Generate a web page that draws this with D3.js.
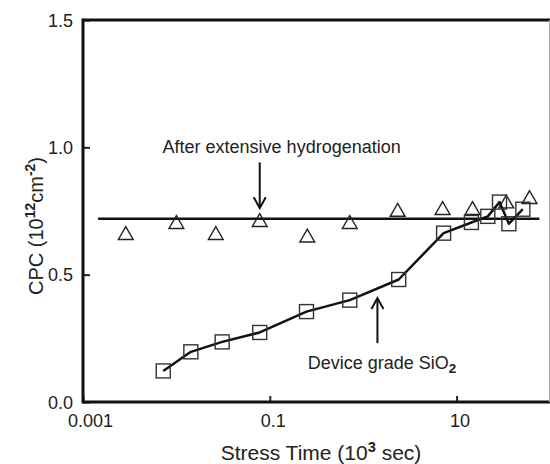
<!DOCTYPE html>
<html>
<head>
<meta charset="utf-8">
<script src="https://cdn.jsdelivr.net/npm/d3@7"></script>
<style>
  html, body { margin: 0; padding: 0; background: #fff; }
  svg { display: block; font-family: "Liberation Sans", Arial, sans-serif; }
</style>
</head>
<body>
<svg id="chart" width="550" height="464"></svg>
<script>
// ---- data ----
const hydroTime = [0.00287, 0.0100, 0.0264, 0.078, 0.252, 0.718, 2.34, 7.08, 14.8, 34, 60.4];
const hydroCPC  = [0.655, 0.698, 0.655, 0.706, 0.645, 0.698, 0.746, 0.753, 0.753, 0.779, 0.796];

const deviceTime = [0.00723, 0.01428, 0.0309, 0.078, 0.247, 0.718, 2.40, 7.26, 14.4, 21.6, 28.8, 36.3, 51.2];
const deviceCPC  = [0.122, 0.197, 0.236, 0.273, 0.355, 0.400, 0.481, 0.663, 0.705, 0.729, 0.785, 0.700, 0.757];

const hydroLevel = 0.72;            // horizontal reference line
const hydroLevelSpan = [0.00145, 77];

const xTicks = [0.001, 0.1, 10];
const xTickLabels = ["0.001", "0.1", "10"];
const yTicks = [0.0, 0.5, 1.0, 1.5];

const xDomain = [0.001, 100];
const yDomain = [0, 1.5];

// ---- layout ----
const svg = d3.select("#chart");
const L = 83, T = 20, R = 550, B = 402;

const x = d3.scaleLog().domain(xDomain).range([L, R]);
const y = d3.scaleLinear().domain(yDomain).range([B, T]);

const tickFont = 18;
const annFont = 18;
const titleFont = 21;
const textColor = "#222";

// axes
const xAxis = d3.axisBottom(x).tickValues(xTicks)
  .tickFormat((d, i) => xTickLabels[i])
  .tickSizeInner(-6).tickSizeOuter(0).tickPadding(12);
const gx = svg.append("g").attr("transform", `translate(0,${B})`).call(xAxis);
gx.select(".domain").remove();
gx.selectAll(".tick line").attr("stroke", "#222").attr("stroke-width", 2);
gx.selectAll(".tick text").attr("font-size", tickFont).attr("fill", textColor)
  .attr("font-family", "Liberation Sans, Arial, sans-serif")
  .attr("dx", (d, i) => i === 0 ? 7 : 3);

const yAxis = d3.axisLeft(y).tickValues(yTicks).tickFormat(d3.format(".1f"))
  .tickSizeInner(-7).tickSizeOuter(0).tickPadding(10);
const gy = svg.append("g").attr("transform", `translate(${L},0)`).call(yAxis);
gy.select(".domain").remove();
gy.selectAll(".tick line").attr("stroke", "#222").attr("stroke-width", 2);
gy.selectAll(".tick text").attr("font-size", tickFont).attr("fill", textColor)
  .attr("font-family", "Liberation Sans, Arial, sans-serif").attr("dy", "0.34em");

// frame
svg.append("line").attr("x1", L).attr("x2", L).attr("y1", T - 1.5).attr("y2", B + 1.5)
  .attr("stroke", "#111").attr("stroke-width", 3);
svg.append("line").attr("x1", L).attr("x2", R).attr("y1", B).attr("y2", B)
  .attr("stroke", "#111").attr("stroke-width", 3);
svg.append("line").attr("x1", L).attr("x2", R).attr("y1", T).attr("y2", T)
  .attr("stroke", "#111").attr("stroke-width", 3);
svg.append("line").attr("x1", 549.5).attr("x2", 549.5).attr("y1", T).attr("y2", B)
  .attr("stroke", "#aaa").attr("stroke-width", 1);

// horizontal hydrogenation line
svg.append("line")
  .attr("x1", x(hydroLevelSpan[0])).attr("x2", x(hydroLevelSpan[1]))
  .attr("y1", y(hydroLevel)).attr("y2", y(hydroLevel))
  .attr("stroke", "#111").attr("stroke-width", 2.5);

// triangles
const triSym = d3.symbol().type(d3.symbolTriangle).size(95);
svg.append("g").selectAll("path").data(hydroTime.map((t, i) => [t, hydroCPC[i]]))
  .join("path")
  .attr("d", triSym)
  .attr("transform", d => `translate(${x(d[0])},${y(d[1])})`)
  .attr("fill", "none").attr("stroke", "#222").attr("stroke-width", 1.4);

// device line
const devData = deviceTime.map((t, i) => [t, deviceCPC[i]]);
svg.append("path").datum(devData)
  .attr("d", d3.line().x(d => x(d[0])).y(d => y(d[1])))
  .attr("fill", "none").attr("stroke", "#111").attr("stroke-width", 2.5)
  .attr("stroke-linejoin", "round");

// squares
const sq = 14;
svg.append("g").selectAll("rect").data(devData).join("rect")
  .attr("x", d => x(d[0]) - sq / 2).attr("y", d => y(d[1]) - sq / 2)
  .attr("width", sq).attr("height", sq)
  .attr("fill", "none").attr("stroke", "#333").attr("stroke-width", 1.4);

// arrows
function arrow(xv, yFrom, yTo) {
  const px = x(xv), y0 = y(yFrom), y1 = y(yTo);
  const dir = y1 > y0 ? 1 : -1;
  svg.append("line").attr("x1", px).attr("x2", px).attr("y1", y0).attr("y2", y1)
    .attr("stroke", "#111").attr("stroke-width", 2);
  svg.append("path")
    .attr("d", `M${px - 6},${y1 - dir * 11}L${px},${y1}L${px + 6},${y1 - dir * 11}`)
    .attr("fill", "none").attr("stroke", "#111").attr("stroke-width", 2);
}
arrow(0.078, 0.941, 0.761);
arrow(1.42, 0.231, 0.408);

// annotation texts
svg.append("text").attr("x", x(0.00711)).attr("y", y(0.976))
  .attr("font-size", annFont).attr("fill", textColor)
  .text("After extensive hydrogenation");

const t2 = svg.append("text").attr("x", x(0.255)).attr("y", y(0.129))
  .attr("font-size", annFont).attr("fill", textColor);
t2.append("tspan").text("Device grade SiO");
t2.append("tspan").attr("dy", 4).attr("font-size", annFont * 0.75).attr("font-weight", "bold").text("2");

// axis titles
const xt = svg.append("text").attr("x", 321).attr("y", 460)
  .attr("text-anchor", "middle").attr("font-size", titleFont).attr("fill", textColor);
xt.append("tspan").text("Stress Time (10");
xt.append("tspan").attr("dy", -8).attr("font-size", titleFont * 0.7).attr("font-weight", "bold").text("3");
xt.append("tspan").attr("dy", 8).text(" sec)");

const yt = svg.append("text")
  .attr("transform", `translate(43,226) rotate(-90)`)
  .attr("text-anchor", "middle").attr("font-size", 20).attr("fill", textColor);
yt.append("tspan").text("CPC (10");
yt.append("tspan").attr("dy", -8).attr("font-size", 14).attr("font-weight", "bold").text("12");
yt.append("tspan").attr("dy", 8).text("cm");
yt.append("tspan").attr("dy", -8).attr("font-size", 14).attr("font-weight", "bold").text("-2");
yt.append("tspan").attr("dy", 8).text(")");
</script>
</body>
</html>
